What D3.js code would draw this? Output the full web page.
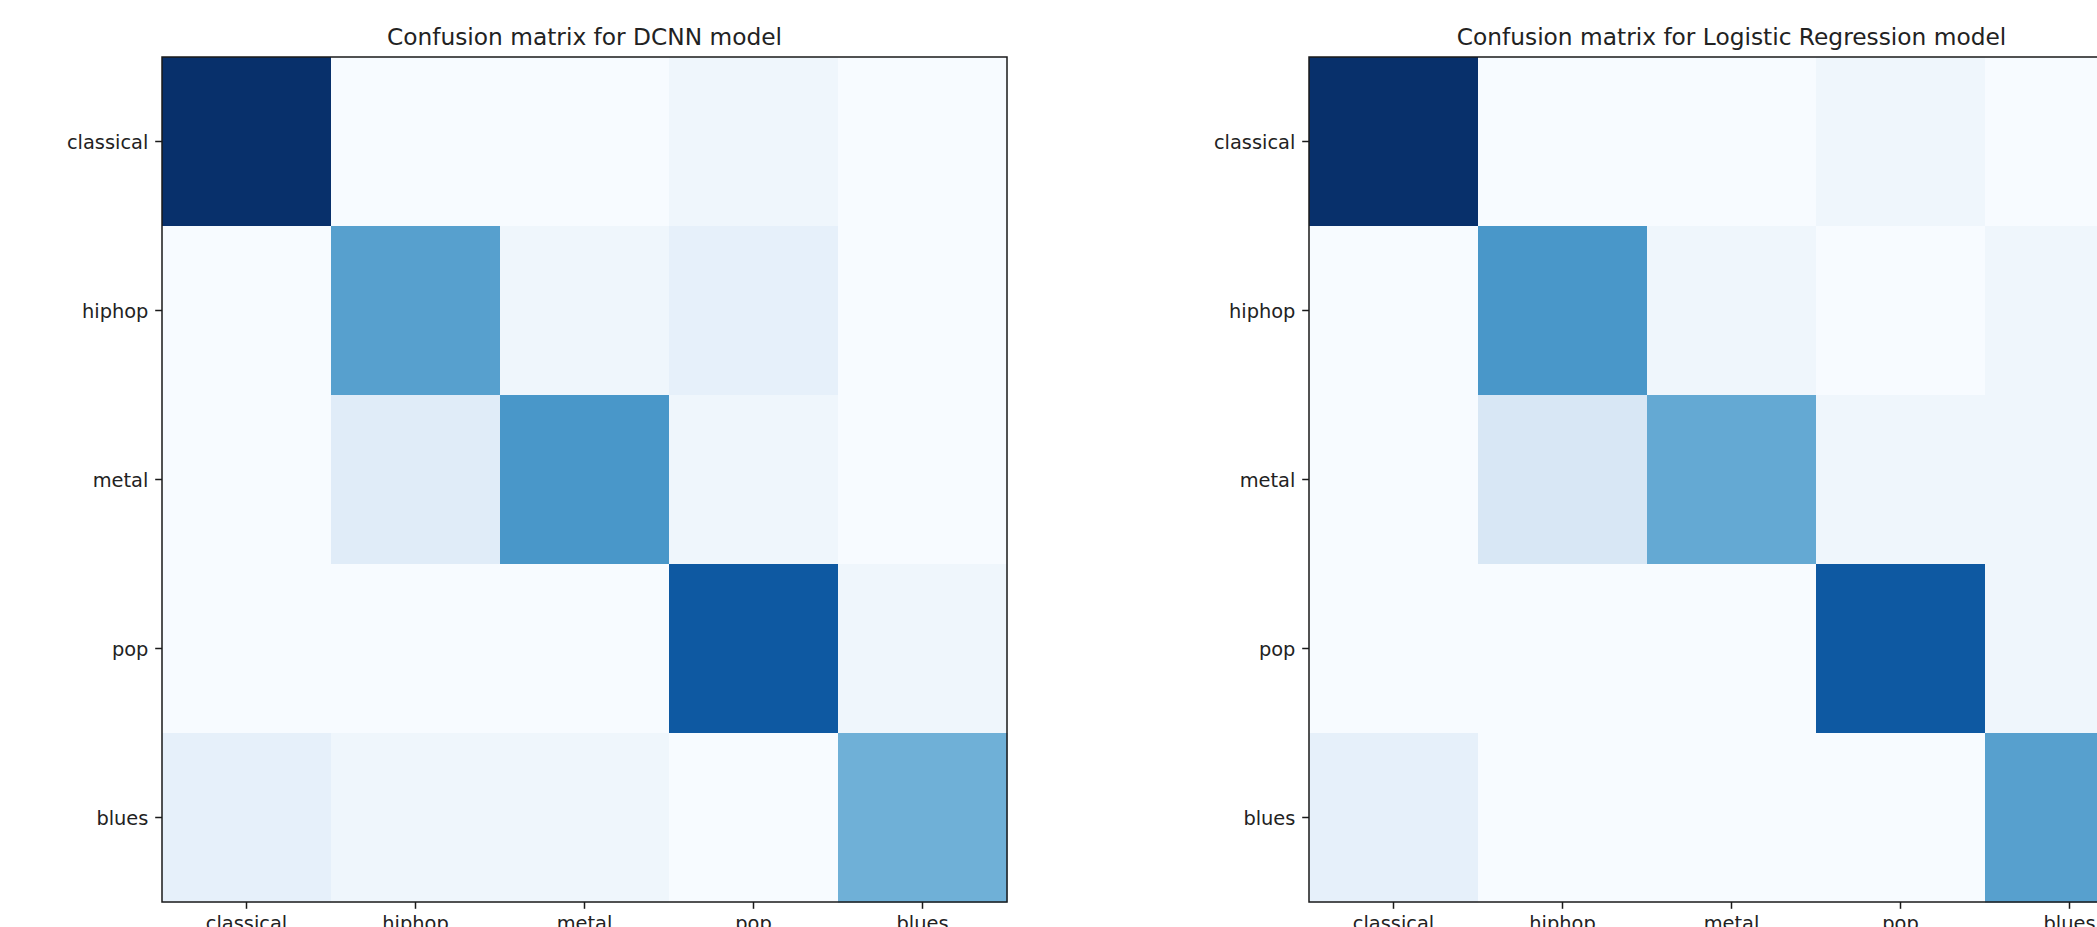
<!DOCTYPE html>
<html>
<head>
<meta charset="utf-8">
<script src="https://cdn.jsdelivr.net/npm/d3@7"></script>
<style>
  html, body { margin: 0; padding: 0; background: #ffffff; overflow: hidden; }
  svg { display: block; }
  text { font-family: "DejaVu Sans", sans-serif; fill: #222; }
</style>
</head>
<body>
<svg id="chart" width="2097" height="927"></svg>
<script>
// Genre labels shared by both matrices (true class on rows, predicted on columns)
const genres = ["classical", "hiphop", "metal", "pop", "blues"];

// Share of test clips (%) per true/predicted genre pair — DCNN model
const dcnnRows = [
  [96, 0, 0, 4, 0],
  [0, 54, 4, 8, 0],
  [0, 11, 58, 4, 0],
  [0, 0, 0, 81, 4],
  [8, 4, 4, 0, 47]
];

// Same layout for the Logistic Regression model
const logregRows = [
  [96, 0, 0, 4, 0],
  [0, 58, 4, 0, 4],
  [0, 15, 50, 4, 4],
  [0, 0, 0, 81, 4],
  [8, 0, 0, 0, 54]
];

const titles = [
  "Confusion matrix for DCNN model",
  "Confusion matrix for Logistic Regression model"
];

// ColorBrewer "Blues" stops (sequential, light to dark)
const bluesStops = ["#f7fbff", "#deebf7", "#c6dbef", "#9ecae1", "#6baed6",
                    "#4292c6", "#2171b5", "#08519c", "#08306b"];

const svg = d3.select("#chart");
const side = 845;               // square plot area
const panels = [
  { left: 162, top: 57, rows: dcnnRows, title: titles[0] },
  { left: 1309, top: 57, rows: logregRows, title: titles[1] }
];

const tickFont = 19.4, titleFont = 23.3, tickLen = 6.8, tickPad = 6.8;

panels.forEach(p => {
  const g = svg.append("g").attr("transform", `translate(${p.left},${p.top})`);

  const x = d3.scaleBand().domain(genres).range([0, side]).padding(0);
  const y = d3.scaleBand().domain(genres).range([0, side]).padding(0);

  const flat = p.rows.flat();
  const [vmin, vmax] = d3.extent(flat);
  const color = d3.scaleLinear()
    .domain(bluesStops.map((_, i) => vmin + (vmax - vmin) * i / (bluesStops.length - 1)))
    .range(bluesStops)
    .interpolate(d3.interpolateRgb)
    .clamp(true);

  const cells = [];
  p.rows.forEach((row, r) => row.forEach((v, c) => cells.push({ t: genres[r], p: genres[c], v })));

  g.selectAll("rect.cell")
    .data(cells)
    .join("rect")
    .attr("class", "cell")
    .attr("x", d => x(d.p))
    .attr("y", d => y(d.t))
    .attr("width", x.bandwidth() + 0.5)
    .attr("height", y.bandwidth() + 0.5)
    .attr("fill", d => color(d.v));

  // Frame around the image
  g.append("rect")
    .attr("x", 0).attr("y", 0)
    .attr("width", side).attr("height", side)
    .attr("fill", "none")
    .attr("stroke", "#1a1a1a")
    .attr("stroke-width", 1.5);

  // Axes
  const yAxis = g.append("g")
    .call(d3.axisLeft(y).tickSize(tickLen).tickPadding(tickPad));
  const xAxis = g.append("g")
    .attr("transform", `translate(0,${side})`)
    .call(d3.axisBottom(x).tickSize(tickLen).tickPadding(tickPad));

  [yAxis, xAxis].forEach(a => {
    a.select(".domain").remove();
    a.selectAll(".tick line").attr("stroke", "#1a1a1a").attr("stroke-width", 1.5);
    a.selectAll(".tick text")
      .attr("font-family", "DejaVu Sans, sans-serif")
      .attr("font-size", tickFont)
      .attr("fill", "#222");
  });
  yAxis.selectAll(".tick text").attr("dy", "0.37em");
  xAxis.selectAll(".tick text").attr("dy", "0.76em");

  g.append("text")
    .attr("x", side / 2)
    .attr("y", -12)
    .attr("text-anchor", "middle")
    .attr("font-size", titleFont)
    .text(p.title);
});
</script>
</body>
</html>
